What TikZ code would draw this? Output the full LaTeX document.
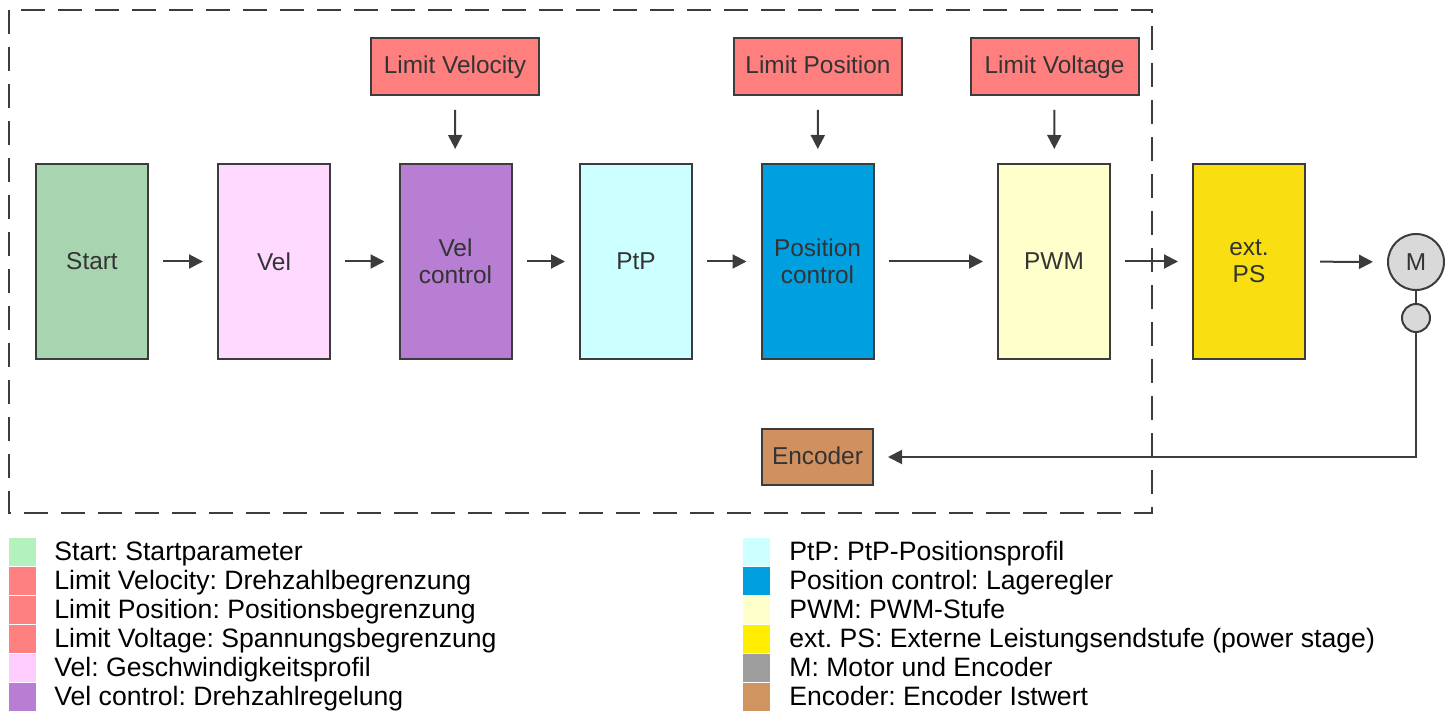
\documentclass[tikz,border=0pt]{standalone}
\usepackage{fontspec}
\setmainfont{Liberation Sans}
\usetikzlibrary{arrows.meta}
\definecolor{linegray}{HTML}{3C3C3C}
\definecolor{textgray}{HTML}{333333}
\definecolor{startgreen}{HTML}{A9D4B0}
\definecolor{limitred}{HTML}{FF7F7F}
\definecolor{velpink}{HTML}{FFD9FF}
\definecolor{velcpurple}{HTML}{B77ED4}
\definecolor{ptpcyan}{HTML}{CCFFFF}
\definecolor{poscblue}{HTML}{00A0E0}
\definecolor{pwmyellow}{HTML}{FFFFCC}
\definecolor{extyellow}{HTML}{F9DF12}
\definecolor{motorgray}{HTML}{D9D9D9}
\definecolor{encbrown}{HTML}{D09060}
\definecolor{lgstart}{HTML}{B3F2BE}
\definecolor{lglimit}{HTML}{FF8080}
\definecolor{lgvel}{HTML}{FFCCFF}
\definecolor{lgext}{HTML}{FFEE00}
\definecolor{lgmotor}{HTML}{9E9E9E}
\definecolor{lgenc}{HTML}{D09461}

\begin{document}
\frenchspacing
\begin{tikzpicture}[x=0.5pt, y=-0.5pt,
  block/.style={draw=linegray, line width=1pt, minimum width=56pt, minimum height=97.5pt,
    inner sep=0pt, align=center, text=textgray, font=\fontsize{12.2}{13.5}\selectfont},
  limit/.style={block, fill=limitred, minimum width=84pt, minimum height=28.5pt,
    text height=0.72em, text depth=0pt},
  round/.style={draw=linegray, line width=1pt, fill=motorgray, circle, inner sep=0pt,
    text=textgray, font=\fontsize{12.2}{13.5}\selectfont},
  arr/.style={draw=linegray, line width=1pt, -{Triangle[length=7pt,width=7pt]},
    shorten <=7pt, shorten >=7pt},
  swatch/.style={minimum width=13.5pt, minimum height=14pt, inner sep=0pt},
  legtext/.style={anchor=west, inner sep=0pt, text height=0.72em, text depth=0pt,
    font=\fontsize{13.3}{14}\selectfont}]
  \useasboundingbox (0,0) rectangle (1453,711);
  % frame round the controller
  \draw[linegray, line width=1pt, dash pattern=on 12pt off 6.5pt] (9,10) rectangle (1152,513);
  % main row
  \node[block, fill=startgreen] (start) at (92, 261.5) {Start};
  \node[block, fill=velpink] (vel) at (274, 261.5) {Vel};
  \node[block, fill=velcpurple] (velc) at (455.5, 261.5) {Vel\\control};
  \node[block, fill=ptpcyan] (ptp) at (636, 261.5) {PtP};
  \node[block, fill=poscblue] (posc) at (817.5, 261.5) {Position\\control};
  \node[block, fill=pwmyellow] (pwm) at (1054, 261.5) {PWM};
  \node[block, fill=extyellow] (extps) at (1249, 261.5) {ext.\\PS};
  \node[round, minimum size=28pt] (mot) at (1416, 262) {M};
  \node[round, minimum size=14pt] (sens) at (1416, 318) {};
  % limits
  \node[limit] (limv) at (455, 66.5) {Limit Velocity};
  \node[limit] (limp) at (818, 66.5) {Limit Position};
  \node[limit] (limu) at (1054.5, 66.5) {Limit Voltage};
  \node[limit, fill=encbrown, minimum width=55.5pt, minimum height=28pt] (enc) at (817.5, 457) {Encoder};
  % connectors
  \draw[arr] (start) -- (vel);
  \draw[arr] (vel) -- (velc);
  \draw[arr] (velc) -- (ptp);
  \draw[arr] (ptp) -- (posc);
  \draw[arr] (posc) -- (pwm);
  \draw[arr] (pwm) -- (extps);
  \draw[arr] (extps) -- (mot);
  \draw[arr] (limv) -- (velc);
  \draw[arr] (limp) -- (posc);
  \draw[arr] (limu) -- (pwm);
  \draw[linegray, line width=1pt] (mot) -- (sens);
  \draw[arr, shorten <=0pt] (sens) |- (enc);
  % legend
  \foreach \col/\txt [count=\i from 0] in {lgstart/Start: Startparameter,
      lglimit/Limit Velocity: Drehzahlbegrenzung, lglimit/Limit Position: Positionsbegrenzung,
      lglimit/Limit Voltage: Spannungsbegrenzung, lgvel/Vel: Geschwindigkeitsprofil,
      velcpurple/Vel control: Drehzahlregelung} {
    \node[swatch, fill=\col] (lgl\i) at (22.5, {552+29*\i}) {};
    \node[legtext] (lgtl\i) at (54, {553+29*\i}) {\txt};
  }
  \foreach \col/\txt [count=\i from 0] in {ptpcyan/PtP: PtP-Positionsprofil,
      poscblue/Position control: Lageregler, pwmyellow/PWM: PWM-Stufe,
      lgext/ext. PS: Externe Leistungsendstufe (power stage), lgmotor/M: Motor und Encoder,
      lgenc/Encoder: Encoder Istwert} {
    \node[swatch, fill=\col] (lgr\i) at (756.5, {552+29*\i}) {};
    \node[legtext] (lgtr\i) at (789, {553+29*\i}) {\txt};
  }
\end{tikzpicture}
\end{document}
